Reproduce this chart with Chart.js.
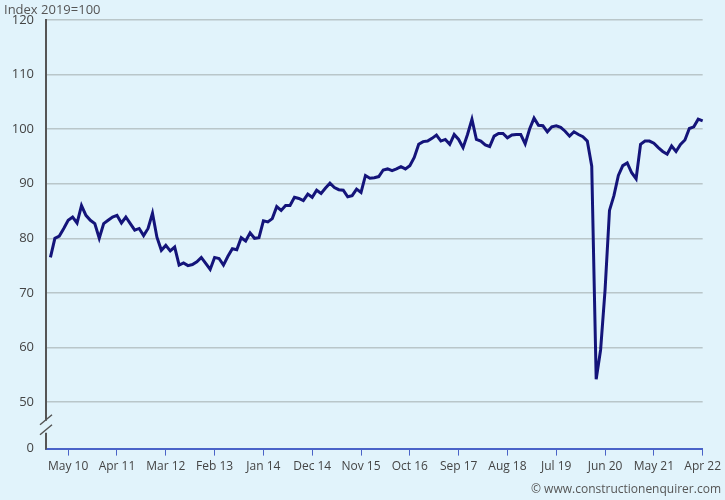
<!DOCTYPE html>
<html>
<head>
  <script src="https://cdn.jsdelivr.net/npm/chart.js"></script>
  <style>
    body { margin: 0; background: #e1f3fb; }
    #wrap { position: relative; width: 725px; height: 500px; }
    #titulo { position: absolute; left: 4px; top: 0px; font: 13px "Open Sans", sans-serif; color: #555; }
    #fuente { position: absolute; right: 4px; bottom: 3px; font: 12px "Open Sans", sans-serif; color: #555; }
  </style>
</head>
<body>
  <div id="wrap">
    <canvas id="grafico" width="725" height="500"></canvas>
    <div id="titulo">Index 2019=100</div>
    <div id="fuente">© www.constructionenquirer.com</div>
  </div>
  <script>
    // months Dec 09 .. Apr 22 (first slot is empty padding)
    const meses = ['Jan','Feb','Mar','Apr','May','Jun','Jul','Aug','Sep','Oct','Nov','Dec'];
    const etiquetasVisibles = ['May 10','Apr 11','Mar 12','Feb 13','Jan 14','Dec 14','Nov 15','Oct 16','Sep 17','Aug 18','Jul 19','Jun 20','May 21','Apr 22'];
    const valoresY = [41.5, 50, 60, 70, 80, 90, 100, 110, 120];

    const indice = [null,
      76.5, 80, 80.4, 81.8, 83.3, 83.9, 82.8, 86, 84.2, 83.3, 82.7, 80,
      82.7, 83.3, 83.9, 84.2, 82.8, 83.9, 82.7, 81.5, 81.8, 80.5, 81.8, 84.6,
      80.2, 77.8, 78.7, 77.7, 78.4, 75.1, 75.5, 75, 75.2, 75.7, 76.5, 75.4,
      74.3, 76.5, 76.3, 75.1, 76.7, 78.1, 77.9, 80.1, 79.5, 81, 80, 80.1,
      83.2, 83, 83.6, 85.8, 85.1, 86, 86, 87.5, 87.3, 86.9, 88.1, 87.5,
      88.8, 88.2, 89.2, 90.1, 89.3, 88.9, 88.8, 87.6, 87.8, 89, 88.4, 91.5,
      91.0, 91.1, 91.3, 92.5, 92.7, 92.4, 92.7, 93.1, 92.7, 93.3, 94.8, 97.2,
      97.7, 97.8, 98.3, 98.9, 97.8, 98.1, 97.2, 99.0, 98.1, 96.6, 99.0, 101.8,
      98.1, 97.8, 97.1, 96.8, 98.7, 99.2, 99.2, 98.4, 98.9, 99.0, 99.0, 97.3,
      100, 102, 100.7, 100.6, 99.5, 100.4, 100.6, 100.3, 99.6, 98.7, 99.5, 99,
      98.6, 97.8, 93.2, 54.2, 59.6, 70.5, 85.1, 87.8, 91.5, 93.3, 93.8, 92,
      90.9, 97.2, 97.8, 97.8, 97.4, 96.6, 95.9, 95.4, 96.9, 95.9, 97.2, 98,
      100.1, 100.4, 101.8, 101.5
    ];

    const etiquetas = [];
    for (let i = 0; i < indice.length; i++) {
      const m = (11 + i) % 12;
      const a = 9 + Math.floor((11 + i) / 12);
      etiquetas.push(meses[m] + ' ' + String(a).padStart(2, '0'));
    }

    // little break marks on the y axis
    const corte = {
      id: 'corte',
      afterDraw(chart) {
        const ctx = chart.ctx;
        const x = chart.chartArea.left;
        const y = chart.scales.y.getPixelForValue(45.5);
        ctx.save();
        ctx.fillStyle = '#e1f3fb';
        ctx.fillRect(x - 3, y - 6, 6, 12);
        ctx.strokeStyle = '#555';
        ctx.lineWidth = 1.5;
        ctx.beginPath();
        ctx.moveTo(x - 6, y - 2); ctx.lineTo(x + 6, y - 12);
        ctx.moveTo(x - 6, y + 8); ctx.lineTo(x + 6, y - 2);
        ctx.stroke();
        ctx.restore();
      }
    };

    new Chart(document.getElementById('grafico'), {
      type: 'line',
      data: {
        labels: etiquetas,
        datasets: [{
          data: indice,
          borderColor: '#14147a',
          borderWidth: 3,
          pointRadius: 0,
          tension: 0
        }]
      },
      options: {
        responsive: false,
        animation: false,
        layout: { padding: { top: 18, right: 20, left: 0, bottom: 22 } },
        plugins: { legend: { display: false }, tooltip: { enabled: false } },
        scales: {
          x: {
            offset: false,
            grid: {
              drawOnChartArea: false,
              tickLength: 7,
              color: c => etiquetasVisibles.includes(etiquetas[c.index]) ? '#4a63c8' : 'rgba(0,0,0,0)'
            },
            border: { color: '#4a63c8', width: 2 },
            ticks: {
              autoSkip: false,
              maxRotation: 0,
              padding: 4,
              color: '#444',
              font: { family: 'Open Sans', size: 12 },
              callback: function (v, i) {
                const l = etiquetas[i];
                return etiquetasVisibles.includes(l) ? l : '';
              }
            }
          },
          y: {
            min: 41.5,
            max: 120,
            afterBuildTicks: ax => { ax.ticks = valoresY.map(v => ({ value: v })); },
            afterFit: ax => { ax.width = 46; },
            grid: {
              color: c => c.tick && c.tick.value === 41.5 ? 'rgba(0,0,0,0)' : '#b9c6c9',
              lineWidth: 1.5,
              drawTicks: false
            },
            border: { color: '#555', width: 2 },
            ticks: {
              padding: 12,
              color: '#444',
              font: { family: 'Open Sans', size: 13 },
              callback: v => v === 41.5 ? '0' : v
            }
          }
        }
      },
      plugins: [corte]
    });
  </script>
</body>
</html>
